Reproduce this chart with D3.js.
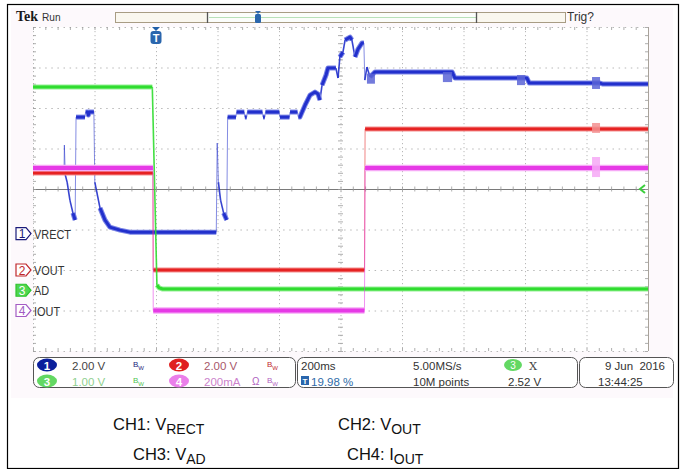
<!DOCTYPE html>
<html>
<head>
<meta charset="utf-8">
<script src="https://cdn.jsdelivr.net/npm/d3@7"></script>
<style>
  body { margin: 0; background: #fff; }
  svg { display: block; }
</style>
</head>
<body>
<div id="scope"></div>
<script>
// ---- data (time in ms from trigger, values in channel units) ----
var chNames = ["VRECT", "VOUT", "AD", "IOUT"];
var chScale = [2, 2, 1, 200];          // V/div, V/div, V/div, mA/div
var chOffset = [-1.1, -2, -2.5, -3];   // ground marker position, divisions
var chReadout = ["2.00 V", "2.00 V", "1.00 V", "200mA"];

var ch1Points = [
  [-400, 3.14], [-299, 3.14], [-298, 4.37], [-295, 2.89], [-289, 2.54], [-280, 1.65],
  [-270, 1.01], [-263, 0.67], [-260, 5.75], [-231, 5.75], [-229, 6.0], [-222, 6.0],
  [-220, 5.85], [-217, 6.0], [-202, 6.0], [-199, 2.54], [-182, 1.26], [-166, 0.67],
  [-150, 0.32], [-117, 0.17], [-85, 0.07], [196, 0.07], [199, 4.47], [203, 2.54],
  [210, 1.65], [220, 1.01], [230, 0.67], [233, 5.75], [260, 5.75], [262, 6.0],
  [287, 6.0], [289, 5.75], [295, 5.75], [297, 6.0], [346, 6.0], [348, 5.75],
  [354, 5.75], [356, 6.0], [401, 6.0], [403, 5.75], [434, 5.75], [436, 6.0],
  [460, 6.0], [463, 5.75], [468, 5.75], [485, 6.35], [501, 6.84], [517, 6.99],
  [527, 6.89], [533, 6.59], [540, 7.33], [553, 7.83], [559, 8.17], [585, 8.17],
  [592, 7.68], [598, 8.72], [608, 8.96], [615, 9.56], [631, 9.7], [637, 9.56],
  [647, 8.72], [657, 9.11], [670, 9.41], [676, 9.41], [679, 7.58], [686, 8.22],
  [696, 7.73], [712, 7.98], [963, 7.98], [972, 7.68], [1206, 7.68], [1214, 7.43],
  [1444, 7.43], [1454, 7.38], [1600, 7.38]
];
var ch2Points = [[-400, 4.79], [-10, 4.79], [-9, 0], [678, 0], [680, 6.96], [1600, 6.96]];
var ch3Points = [[-400, 5.02], [-12, 5.02], [3, 0.13], [10, 0.06], [22, 0.03], [1600, 0.03]];
var ch4Points = [[-400, 704], [-10, 704], [-9, 0], [678, 0], [680, 704], [1600, 704]];

// persistence blobs: [t0, t1, low, high]
var ch1Blocks = [[686, 712, 7.4, 7.9], [933, 963, 7.48, 7.98], [1174, 1200, 7.33, 7.83], [1418, 1444, 7.14, 7.73]];
var ch2Blocks = [[1418, 1444, 6.77, 7.26]];
var ch4Blocks = [[1418, 1444, 659, 758]];

var timebase = ["200ms", "19.98 %"];
var acquisition = ["5.00MS/s", "10M points"];
var trigger = ["3", "2.52 V"];
var dateTime = ["9 Jun  2016", "13:44:25"];

// ---- layout ----
var W = 681, H = 469;
var core = ["#2230cc", "#e62222", "#2fdc2f", "#e63ae6"];
var halo = ["#7a84e6", "#f39090", "#95f095", "#f6a8f6"];
var all = [ch1Points, ch2Points, ch3Points, ch4Points];
var blocks = [ch1Blocks, ch2Blocks, [], ch4Blocks];

var svg = d3.select("#scope").append("svg").attr("width", W).attr("height", H);

// outer frame and screen background
svg.append("rect").attr("x", 11).attr("y", 8).attr("width", 662).attr("height", 390).attr("fill", "#fdf9fc");
svg.append("rect").attr("x", 7.5).attr("y", 4.5).attr("width", 671).attr("height", 464)
  .attr("fill", "none").attr("stroke", "#000").attr("stroke-width", 1.2);

var x = d3.scaleLinear().domain([-400, 1600]).range([33, 648]);
var xDiv = d3.scaleLinear().domain([0, 10]).range([33, 648]);
var yDiv = d3.scaleLinear().domain([-4, 4]).range([351, 27]);
function y(ch, v) { return yDiv(chOffset[ch] + v / chScale[ch]); }

// graticule
var grid = svg.append("g");
grid.append("rect").attr("x", 33).attr("y", 27).attr("width", 615).attr("height", 324).attr("fill", "#fff");
grid.selectAll(".vx").data(d3.range(0, 11)).enter().append("line")
  .attr("x1", function (d) { return xDiv(d) + 0.5; }).attr("x2", function (d) { return xDiv(d) + 0.5; })
  .attr("y1", 27).attr("y2", 351)
  .attr("stroke", "#b8b8b8").attr("stroke-dasharray", "1.2,2.8");
grid.selectAll(".hy").data(d3.range(-4, 5)).enter().append("line")
  .attr("y1", function (d) { return yDiv(d) + 0.5; }).attr("y2", function (d) { return yDiv(d) + 0.5; })
  .attr("x1", 33).attr("x2", 648)
  .attr("stroke", function (d) { return d === 0 ? "#7a7a7a" : "#b8b8b8"; })
  .attr("stroke-dasharray", function (d) { return d === 0 ? null : "1.5,4.6"; });
// minor ticks on centre lines and edges
var minorX = d3.range(0, 10.01, 0.2), minorY = d3.range(-4, 4.01, 0.2);
[[yDiv(0), 2.5], [27, 3], [351, -3]].forEach(function (r) {
  grid.selectAll(null).data(minorX).enter().append("line")
    .attr("x1", function (d) { return xDiv(d) + 0.5; }).attr("x2", function (d) { return xDiv(d) + 0.5; })
    .attr("y1", r[1] > 0 && r[0] !== 27 ? r[0] - r[1] : r[0]).attr("y2", r[0] + r[1])
    .attr("stroke", "#999").attr("stroke-width", 0.8);
});
[[xDiv(5), 2.5], [33, 3], [648, -3]].forEach(function (r) {
  grid.selectAll(null).data(minorY).enter().append("line")
    .attr("y1", function (d) { return yDiv(d) + 0.5; }).attr("y2", function (d) { return yDiv(d) + 0.5; })
    .attr("x1", r[0] === xDiv(5) ? r[0] - r[1] : r[0]).attr("x2", r[0] + r[1])
    .attr("stroke", "#999").attr("stroke-width", 0.8);
});
grid.append("line").attr("x1", 648.5).attr("x2", 648.5).attr("y1", 27).attr("y2", 351).attr("stroke", "#a8a29a");

// traces: steep edges thin, flat runs thick
var traces = svg.append("g");
all.forEach(function (pts, ch) {
  var px = pts.map(function (p) { return [x(p[0]), y(ch, p[1])]; });
  var runs = [], cur = [px[0]];
  for (var i = 1; i < px.length; i++) {
    var dx = px[i][0] - px[i - 1][0], dy = px[i][1] - px[i - 1][1];
    if (Math.abs(dy) > 2.2 * Math.abs(dx) + 3) {
      traces.append("line").attr("x1", px[i - 1][0]).attr("y1", px[i - 1][1])
        .attr("x2", px[i][0]).attr("y2", px[i][1])
        .attr("stroke", core[ch]).attr("stroke-width", Math.abs(dx) > 1.5 ? 1.6 : 1)
        .attr("opacity", Math.abs(dx) > 1.5 ? 0.9 : 0.55);
      if (cur.length > 1) runs.push(cur);
      cur = [px[i]];
    } else cur.push(px[i]);
  }
  if (cur.length > 1) runs.push(cur);
  var line = d3.line();
  runs.forEach(function (r) {
    traces.append("path").attr("d", line(r)).attr("fill", "none")
      .attr("stroke", halo[ch]).attr("stroke-width", ch === 3 ? 6.5 : 5).attr("stroke-linejoin", "round");
    traces.append("path").attr("d", line(r)).attr("fill", "none")
      .attr("stroke", core[ch]).attr("stroke-width", ch === 3 ? 4 : 3).attr("stroke-linejoin", "round");
  });
  traces.selectAll(null).data(blocks[ch]).enter().append("rect")
    .attr("x", function (d) { return x(d[0]); })
    .attr("width", function (d) { return x(d[1]) - x(d[0]); })
    .attr("y", function (d) { return y(ch, d[3]); })
    .attr("height", function (d) { return y(ch, d[2]) - y(ch, d[3]); })
    .attr("fill", ch === 0 ? "#5a64d6" : halo[ch]).attr("opacity", 0.85);
});

// channel ground markers
var mk = svg.append("g");
var mkOutline = ["#1b1b7a", "#c0282c", "#2fc42f", "#a45cc4"];
chNames.forEach(function (n, ch) {
  var cy = yDiv(chOffset[ch]);
  var g = mk.append("g").attr("transform", "translate(16," + cy + ")");
  g.append("path").attr("d", "M0,-6 H10 L15,0 L10,6 H0 Z")
    .attr("fill", ch === 2 ? "#4fd64f" : "#fff").attr("stroke", mkOutline[ch]).attr("stroke-width", 1.2);
  g.append("text").attr("x", 6).attr("y", 4.5).attr("text-anchor", "middle")
    .attr("font-family", "Liberation Sans, Arial, sans-serif").attr("font-size", 12)
    .attr("fill", ch === 2 ? "#fff" : mkOutline[ch]).text(ch + 1);
  mk.append("text").attr("transform", "translate(34," + (cy + 5) + ") scale(0.84,1)")
    .attr("font-family", "Liberation Sans, Arial, sans-serif")
    .attr("font-size", 13).attr("fill", "#333").text(n);
});

// trigger level arrow (right) and trigger position marker
svg.append("path").attr("d", "M645,185 L640," + yDiv(0) + " L645,193").attr("fill", "none")
  .attr("stroke", "#3ccf3c").attr("stroke-width", 2);
var tx = x(0);
svg.append("path").attr("d", "M" + (tx - 4) + ",27 H" + (tx + 4) + " L" + tx + ",31 Z").attr("fill", "#1f5fa8");
svg.append("rect").attr("x", tx - 5.5).attr("y", 31).attr("width", 11).attr("height", 13).attr("rx", 3)
  .attr("fill", "#2a66ad");
svg.append("text").attr("x", tx).attr("y", 42).attr("text-anchor", "middle").attr("fill", "#fff")
  .attr("font-family", "Liberation Sans, sans-serif").attr("font-weight", "bold").attr("font-size", 11).text("T");

// top bar
svg.append("text").attr("x", 16).attr("y", 21).attr("font-family", "Liberation Serif, serif")
  .attr("font-weight", "bold").attr("font-size", 14).attr("fill", "#1a1a1a").text("Tek");
svg.append("text").attr("transform", "translate(42,21) scale(0.88,1)").attr("font-family", "Liberation Sans, sans-serif")
  .attr("font-size", 11.5).attr("fill", "#333").text("Run");
svg.append("rect").attr("x", 115.5).attr("y", 12.5).attr("width", 450).attr("height", 10)
  .attr("fill", "#faf7ef").attr("stroke", "#a89c84");
svg.append("rect").attr("x", 207).attr("y", 13).attr("width", 270).attr("height", 9).attr("fill", "#fbfdfb");
svg.append("line").attr("x1", 209).attr("x2", 476).attr("y1", 17.5).attr("y2", 17.5).attr("stroke", "#b8e0b8");
[207, 476].forEach(function (bx) {
  svg.append("line").attr("x1", bx + 0.5).attr("x2", bx + 0.5).attr("y1", 12).attr("y2", 23).attr("stroke", "#555").attr("stroke-width", 1.3);
});
svg.append("path").attr("d", "M255,11 H261 L258,14 Z").attr("fill", "#2a66ad");
svg.append("rect").attr("x", 255).attr("y", 14).attr("width", 6).attr("height", 9).attr("rx", 1.5).attr("fill", "#2a66ad");
svg.append("text").attr("x", 567).attr("y", 21).attr("font-family", "Liberation Sans, sans-serif")
  .attr("font-size", 12).attr("fill", "#333").text("Trig?");

// readout panel
var panel = svg.append("g").attr("font-family", "Liberation Sans, Arial, sans-serif").attr("font-size", 11.5);
[[33.5, 262], [297.5, 280], [579.5, 94]].forEach(function (b) {
  panel.append("rect").attr("x", b[0]).attr("y", 357.5).attr("width", b[1]).attr("height", 30).attr("rx", 6)
    .attr("fill", "#fff").attr("stroke", "#555");
});
var badge = ["#0b1f9c", "#e02020", "#63d863", "#ea7fea"];
var readColor = ["#444", "#a8586a", "#8fd08f", "#cc82cc"];
var bwColor = ["#1b1b7a", "#c0282c", "#4fc44f", "#b060c0"];
chReadout.forEach(function (r, ch) {
  var col = ch % 2, row = Math.floor(ch / 2);
  var bx = col ? 179 : 47, by = row ? 381 : 365;
  panel.append("ellipse").attr("cx", bx).attr("cy", by).attr("rx", 10).attr("ry", 6.5).attr("fill", badge[ch]);
  panel.append("text").attr("x", bx).attr("y", by + 4.5).attr("text-anchor", "middle").attr("fill", "#fff")
    .attr("font-weight", "bold").text(ch + 1);
  panel.append("text").attr("x", bx + 25).attr("y", by + 4.5).attr("fill", readColor[ch]).text(r);
  var bw = panel.append("text").attr("x", col ? 267 : 133).attr("y", by + 2).attr("fill", bwColor[ch]).attr("font-size", 8);
  bw.append("tspan").text("B");
  bw.append("tspan").attr("dy", 3).attr("font-size", 6).text("W");
  if (ch === 3) panel.append("text").attr("x", 252).attr("y", by + 4).attr("fill", bwColor[ch]).attr("font-size", 10).text("Ω");
});
panel.append("text").attr("x", 301).attr("y", 369.5).attr("fill", "#333").text(timebase[0]);
panel.append("rect").attr("x", 301).attr("y", 376).attr("width", 8).attr("height", 9).attr("fill", "#2a66ad");
panel.append("text").attr("x", 305).attr("y", 384).attr("text-anchor", "middle").attr("fill", "#fff").attr("font-size", 8).attr("font-weight", "bold").text("T");
panel.append("text").attr("x", 311).attr("y", 385.5).attr("fill", "#2f6aa8").text(timebase[1]);
panel.append("text").attr("x", 413).attr("y", 369.5).attr("fill", "#333").text(acquisition[0]);
panel.append("text").attr("x", 413).attr("y", 385.5).attr("fill", "#333").text(acquisition[1]);
panel.append("ellipse").attr("cx", 513).attr("cy", 365).attr("rx", 9).attr("ry", 6).attr("fill", "#63d863");
panel.append("text").attr("x", 513).attr("y", 369).attr("text-anchor", "middle").attr("fill", "#fff").attr("font-size", 10).text(trigger[0]);
panel.append("text").attr("x", 529).attr("y", 369.5).attr("fill", "#444").attr("font-family", "DejaVu Serif, serif").text("X");
panel.append("text").attr("x", 508).attr("y", 385.5).attr("fill", "#333").text(trigger[1]);
panel.append("text").attr("x", 665).attr("y", 369.5).attr("text-anchor", "end").attr("fill", "#333").attr("xml:space", "preserve").text(dateTime[0]);
panel.append("text").attr("x", 598).attr("y", 385.5).attr("fill", "#333").text(dateTime[1]);

// captions
var captions = [["CH1: V", "RECT", 113, 430], ["CH2: V", "OUT", 338, 430], ["CH3: V", "AD", 133, 460], ["CH4: I", "OUT", 347, 460]];
captions.forEach(function (c) {
  var t = svg.append("text").attr("x", c[2]).attr("y", c[3]).attr("font-family", "Liberation Sans, Arial, sans-serif")
    .attr("font-size", 16.5).attr("fill", "#111");
  t.append("tspan").text(c[0]);
  t.append("tspan").attr("dy", 4).attr("font-size", 14).text(c[1]);
});
</script>
</body>
</html>
